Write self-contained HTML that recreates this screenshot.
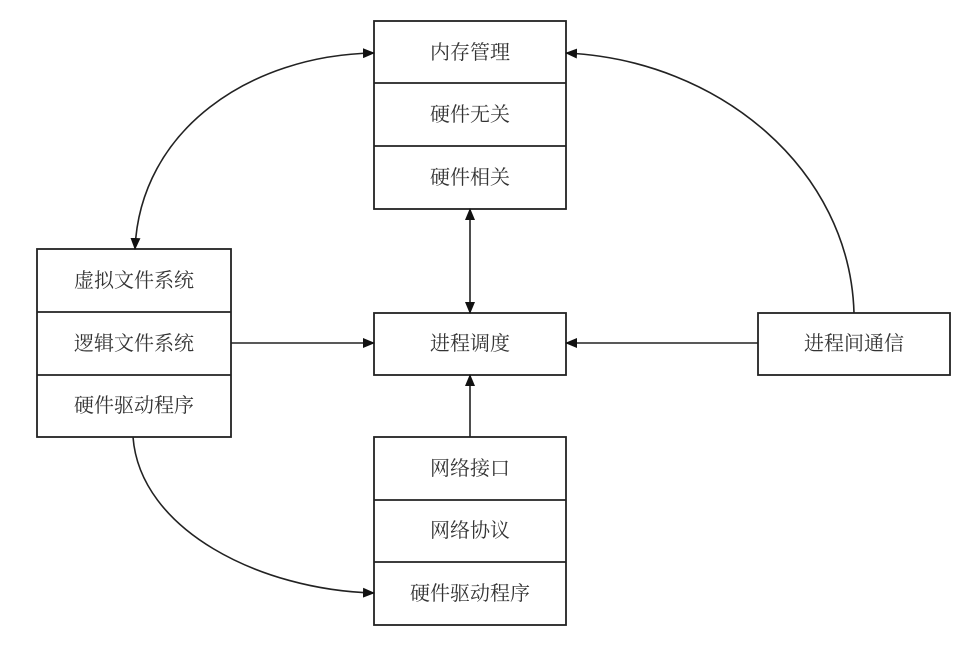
<!DOCTYPE html>
<html><head><meta charset="utf-8"><style>
html,body{margin:0;padding:0;background:#fff;}
svg{display:block}
text{font-family:"Liberation Serif","Noto Serif CJK SC","Noto Sans CJK SC",serif;font-size:20px;fill:#333;text-anchor:middle;dominant-baseline:central}
</style></head><body>
<svg width="978" height="650" viewBox="0 0 978 650" xmlns="http://www.w3.org/2000/svg">
<defs><marker id="a" markerWidth="12" markerHeight="10" refX="11" refY="5" orient="auto" markerUnits="userSpaceOnUse"><path d="M0,0 L12,5 L0,10 z" fill="#111"/></marker>
<marker id="s" markerWidth="12" markerHeight="10" refX="1" refY="5" orient="auto" markerUnits="userSpaceOnUse"><path d="M12,0 L0,5 L12,10 z" fill="#111"/></marker></defs>
<g fill="#fff" stroke="#222" stroke-width="1.8">
<rect x="374" y="21" width="192" height="188"/>
<line x1="374" y1="83" x2="566" y2="83"/><line x1="374" y1="146" x2="566" y2="146"/>
<rect x="37" y="249" width="194" height="188"/>
<line x1="37" y1="312" x2="231" y2="312"/><line x1="37" y1="375" x2="231" y2="375"/>
<rect x="374" y="313" width="192" height="62"/>
<rect x="758" y="313" width="192" height="62"/>
<rect x="374" y="437" width="192" height="188"/>
<line x1="374" y1="500" x2="566" y2="500"/><line x1="374" y1="562" x2="566" y2="562"/>
</g>
<g fill="none" stroke="#222" stroke-width="1.6">
<path d="M135,249 C140,130 250,55 374,53" marker-start="url(#s)" marker-end="url(#a)"/>
<line x1="470" y1="209" x2="470" y2="313" marker-start="url(#s)" marker-end="url(#a)"/>
<line x1="231" y1="343" x2="374" y2="343" marker-end="url(#a)"/>
<line x1="758" y1="343" x2="566" y2="343" marker-end="url(#a)"/>
<line x1="470" y1="437" x2="470" y2="375" marker-end="url(#a)"/>
<path d="M854,313 C850,170 720,60 566,53" marker-end="url(#a)"/>
<path d="M133,437 C140,530 260,590 374,593" marker-end="url(#a)"/>
</g>
<text x="470" y="53">内存管理</text>
<text x="470" y="115">硬件无关</text>
<text x="470" y="178">硬件相关</text>
<text x="134" y="281">虚拟文件系统</text>
<text x="134" y="344">逻辑文件系统</text>
<text x="134" y="406">硬件驱动程序</text>
<text x="470" y="344">进程调度</text>
<text x="854" y="344">进程间通信</text>
<text x="470" y="469">网络接口</text>
<text x="470" y="531">网络协议</text>
<text x="470" y="594">硬件驱动程序</text>
</svg>
</body></html>
